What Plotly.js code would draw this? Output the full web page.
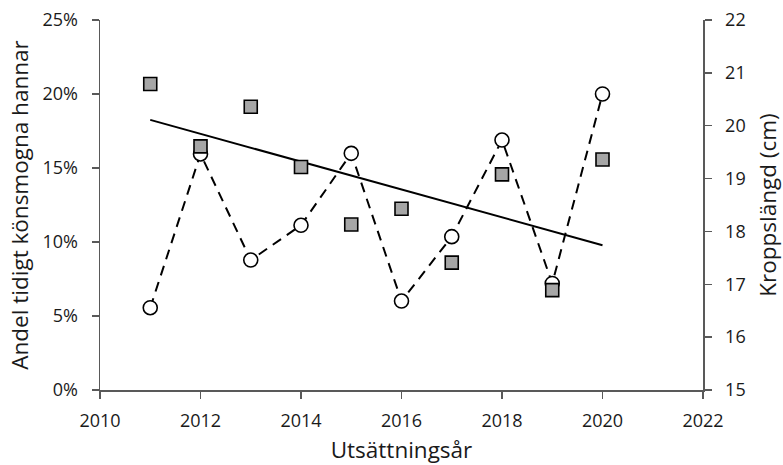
<!DOCTYPE html>
<html>
<head>
<meta charset="utf-8">
<script src="https://cdn.plot.ly/plotly-3.0.1.min.js"></script>
<style>html,body{margin:0;padding:0;background:#fff;}#chart{width:783px;height:465px;}</style>
</head>
<body>
<div id="chart"></div>
<script>
// Data
const years = [2011, 2012, 2013, 2014, 2015, 2016, 2017, 2018, 2019, 2020];
const andelTidigt = [0.0556, 0.1595, 0.0878, 0.1113, 0.1599, 0.0601, 0.1036, 0.1689, 0.0720, 0.2000];
const kroppslangd = [20.79, 19.61, 20.36, 19.22, 18.13, 18.43, 17.41, 19.08, 16.89, 19.36];
const trendYears = [2011, 2020];
const trendLangd = [20.11, 17.74];

const xTicks = [2010, 2012, 2014, 2016, 2018, 2020, 2022];
const leftTicks = [0, 0.05, 0.10, 0.15, 0.20, 0.25];
const rightTicks = [15, 16, 17, 18, 19, 20, 21, 22];

const FONT = '"Open Sans", sans-serif';
const TXT = '#1a1a1a';
const AX = '#595959';
const TICKSIZE = 18;
const TITLESIZE = 22.5;

const traces = [
  {
    x: years, y: andelTidigt, type: 'scatter', mode: 'lines+markers',
    line: {color: '#000', width: 2, dash: '10px,7px'},
    marker: {symbol: 'circle', size: 14, color: '#fff', line: {color: '#000', width: 1.6}},
    yaxis: 'y'
  },
  {
    x: trendYears, y: trendLangd, type: 'scatter', mode: 'lines',
    line: {color: '#000', width: 2},
    yaxis: 'y2'
  },
  {
    x: years, y: kroppslangd, type: 'scatter', mode: 'markers',
    marker: {symbol: 'square', size: 13, color: '#a6a6a6', line: {color: '#000', width: 1.6}},
    yaxis: 'y2'
  }
];

const layout = {
  width: 783, height: 465,
  margin: {l: 100, r: 80, t: 20, b: 75},
  paper_bgcolor: '#fff', plot_bgcolor: '#fff',
  showlegend: false,
  font: {family: FONT, color: TXT, size: 16},
  xaxis: {
    range: [2010, 2022], tickvals: xTicks, ticktext: xTicks.map(String),
    showgrid: false, zeroline: false,
    showline: true, linecolor: AX, linewidth: 1.5,
    ticks: 'outside', ticklen: 7, tickwidth: 1.5, tickcolor: AX,
    ticklabelstandoff: 7,
    tickfont: {family: FONT, size: TICKSIZE, color: TXT},
    title: {text: 'Utsättningsår', font: {family: FONT, size: TITLESIZE, color: TXT}, standoff: 17}
  },
  yaxis: {
    range: [0, 0.25], tickvals: leftTicks, tickformat: '.0%',
    showgrid: false, zeroline: false,
    showline: true, linecolor: AX, linewidth: 1.5,
    ticks: 'outside', ticklen: 7, tickwidth: 1.5, tickcolor: AX,
    ticklabelstandoff: 10,
    tickfont: {family: FONT, size: TICKSIZE, color: TXT},
    title: {text: 'Andel tidigt könsmogna hannar', font: {family: FONT, size: TITLESIZE, color: TXT}, standoff: 7}
  },
  yaxis2: {
    range: [15, 22], tickvals: rightTicks, overlaying: 'y', side: 'right',
    showgrid: false, zeroline: false,
    showline: true, linecolor: AX, linewidth: 1.5,
    ticks: 'outside', ticklen: 7, tickwidth: 1.5, tickcolor: AX,
    ticklabelstandoff: 10,
    tickfont: {family: FONT, size: TICKSIZE, color: TXT},
    title: {text: 'Kroppslängd (cm)', font: {family: FONT, size: TITLESIZE, color: TXT}, standoff: 18}
  }
};

Plotly.newPlot('chart', traces, layout, {displayModeBar: false, staticPlot: true});
</script>
</body>
</html>
